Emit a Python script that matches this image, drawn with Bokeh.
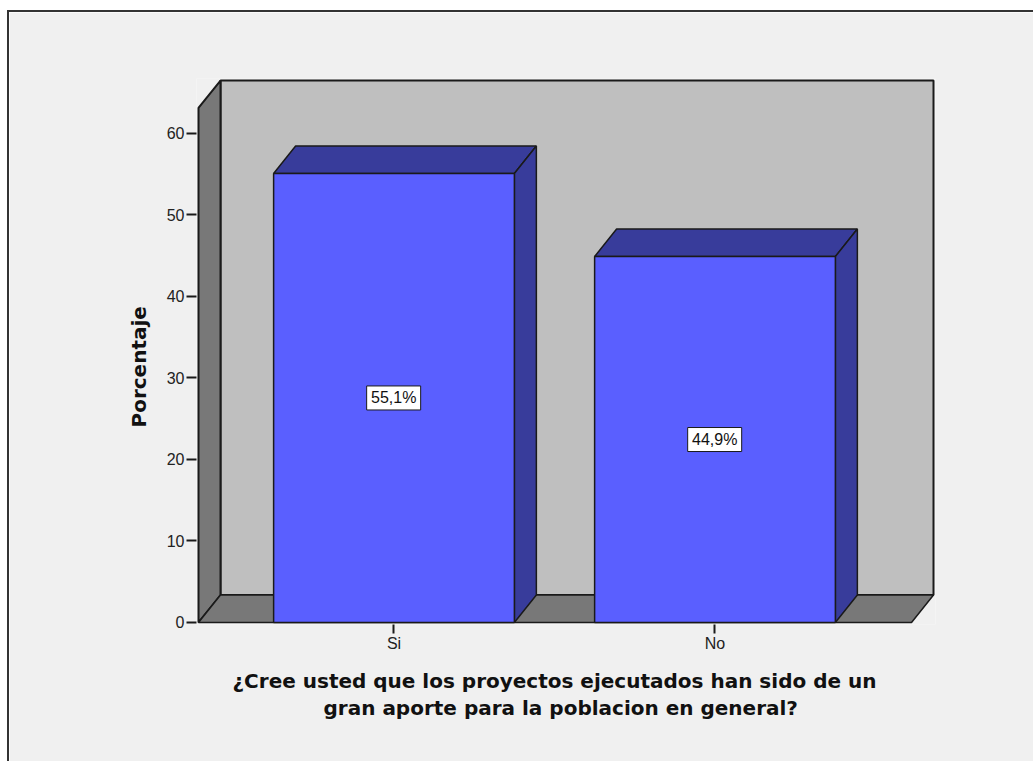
from bokeh.plotting import figure
from bokeh.models import Title, FixedTicker, Range1d
from bokeh.embed import file_html
from bokeh.resources import INLINE
from bokeh.core.properties import value

categories = ["Si", "No"]
percentages = [55.1, 44.9]
bar_labels = ["55,1%", "44,9%"]
y_ticks = [0, 10, 20, 30, 40, 50, 60]
x_title_lines = ["¿Cree usted que los proyectos ejecutados han sido de un",
                 "gran aporte para la poblacion en general?"]
y_title = "Porcentaje"

PANEL, WALL, FLOOR = "#f0f0f0", "#bfbfbf", "#787878"
BAR, BAR_DARK, INK = "#5a5fff", "#383c9b", "#1a1a1a"

x_start, x_end = 0.391, 2.6807  # box extent
y_top = 66.5
x_pad, y_pad = 2 / 321, 2 / 8.15  # keeps the box outline from being clipped by the frame
dx, dy = 0.0685, 3.37          # depth of the 3-D box in data units
half = 0.375                   # half bar width
positions = list(range(1, len(categories) + 1))

p = figure(width=1024, height=749, frame_width=739, frame_height=546,
           x_range=Range1d(x_start - x_pad, x_end + x_pad), y_range=Range1d(-y_pad, y_top + y_pad),
           min_border_left=187, min_border_right=98, min_border_top=66, min_border_bottom=137,
           output_backend="svg", toolbar_location=None,
           background_fill_color=PANEL, border_fill_color=PANEL, outline_line_color=None,
           styles={"margin-left": "7px", "margin-top": "10px",
                   "border-left": "2px solid #333333", "border-top": "2px solid #333333"})
p.grid.visible = False

# walls and floor
x0, x1 = x_start, x_end - dx
p.quad(left=[x0 + dx], right=[x1 + dx], bottom=[dy], top=[y_top], fill_color=WALL, line_color=INK, line_width=2)
p.patch([x0, x0 + dx, x0 + dx, x0], [0, dy, y_top, y_top - dy], fill_color=FLOOR, line_color=INK, line_width=2)
p.patch([x0, x1, x1 + dx, x0 + dx], [0, 0, dy, dy], fill_color=FLOOR, line_color=INK, line_width=1.5)

# bars
for xc, v in zip(positions, percentages):
    l, r = xc - half, xc + half
    p.patch([l, l + dx, r + dx, r], [v, v + dy, v + dy, v], fill_color=BAR_DARK, line_color=INK, line_width=1.5)
    p.patch([r, r + dx, r + dx, r], [0, dy, v + dy, v], fill_color=BAR_DARK, line_color=INK, line_width=1.5)
    p.quad(left=[l], right=[r], bottom=[0], top=[v], fill_color=BAR, line_color=INK, line_width=1.5)

# value boxes
p.rect(x=[x - 0.001 for x in positions], y=[v / 2 for v in percentages], width=54, height=24,
       width_units="screen", height_units="screen", fill_color="white", line_color=INK, line_width=1)
p.text(x=[x - 0.001 for x in positions], y=[v / 2 for v in percentages], text=bar_labels,
       text_font=value("Liberation Sans"), text_font_size="16px", text_color="#111111",
       text_align="center", text_baseline="middle")

# axes
p.yaxis.ticker = FixedTicker(ticks=y_ticks)
p.xaxis.ticker = FixedTicker(ticks=positions)
p.xaxis.major_label_overrides = dict(zip(positions, categories))
for ax in (p.xaxis[0], p.yaxis[0]):
    ax.axis_line_color = None
    ax.minor_tick_line_color = None
    ax.major_tick_line_color = INK
    ax.major_tick_line_width = 2
    ax.major_tick_in = 0
    ax.major_tick_out = 10
    ax.major_label_text_font = "Liberation Sans"
    ax.major_label_text_font_size = "16px"
    ax.major_label_text_color = "#222222"
p.xaxis[0].major_tick_out = 9
p.xaxis[0].major_label_standoff = 1
p.yaxis[0].major_label_standoff = 2

bold = dict(text_font="DejaVu Sans", text_font_style="bold", text_font_size="20px", text_color="#111111")
p.add_layout(Title(text=y_title, align="left", offset=197, standoff=25, **bold), "left")
p.add_layout(Title(text=x_title_lines[0], align="left", offset=36, standoff=24, **bold), "below")
p.add_layout(Title(text=x_title_lines[1], align="left", offset=127, standoff=-30, **bold), "below")

open("out.html", "w").write(file_html(p, INLINE))
